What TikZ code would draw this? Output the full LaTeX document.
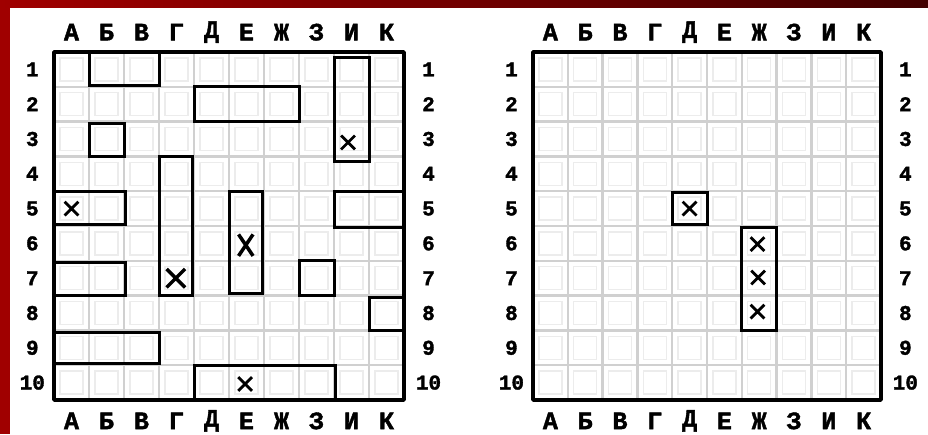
\documentclass[tikz,border=0pt]{standalone}
\usepackage{fontspec}
\newfontfamily\boardfont[BoldFeatures={FakeBold=1.6}]{Liberation Mono}
\usetikzlibrary{shapes.misc}
\definecolor{framered}{HTML}{A00000}
\definecolor{framedark}{HTML}{420000}
\definecolor{cellgrey}{HTML}{D0D0D0}
\definecolor{cellsoft}{HTML}{ECECEC}
\tikzset{
  gridline/.style  = {draw=cellgrey, line width=2.5pt},
  cellinner/.style = {draw=cellsoft, line width=1.5pt},
  border/.style    = {draw=black, line width=3.5pt, line join=round},
  ship/.style      = {draw=black, line width=3pt},
  collbl/.style    = {font=\boardfont\bfseries\fontsize{25}{25}\selectfont, inner sep=0pt},
  rowlbl/.style    = {font=\boardfont\bfseries\fontsize{21}{21}\selectfont, inner sep=0pt},
  hitmark/.style   = {cross out, draw=black, line width=2.8pt, minimum size=11pt, inner sep=0pt},
  bighit/.style    = {hitmark, line width=3.5pt, minimum size=15pt},
  tallhit/.style   = {hitmark, line width=3.5pt, minimum width=11pt, minimum height=18pt},
}

\begin{document}
\begin{tikzpicture}[x=1pt,y=-1pt]
  \useasboundingbox (0,0) rectangle (928,434);
  \fill[white] (0,0) rectangle (928,434);
  % red frame
  \fill[framered] (0,0) rectangle (10,434);
  \shade[left color=framered, right color=framedark] (0,0) rectangle (928,7.5);

  % both boards: cells, lines, frame, labels
  \foreach \bx/\bw/\side in {54/35/L, 533/34.8/R} {
    \begin{scope}[shift={(\bx,52)}, x=\bw pt, y=-34.8pt]
      \foreach \i in {0,...,9}
        \foreach \j in {0,...,9}
          \draw[cellinner] (\i+0.17,\j+0.17) rectangle (\i+0.83,\j+0.83);
      \foreach \k in {1,...,9} {
        \draw[gridline] (\k,0) -- (\k,10);
        \draw[gridline] (0,\k) -- (10,\k);
      }
      \draw[border] (0,0) rectangle (10,10);
      \foreach \c [count=\i from 0] in {А,Б,В,Г,Д,Е,Ж,З,И,К} {
        \node[collbl] (\side top\i) at (\i+0.5,-0.57) {\c};
        \node[collbl] (\side bot\i) at (\i+0.5,10.6) {\c};
      }
      \foreach \n [count=\j from 0] in {1,...,10} {
        \node[rowlbl] (\side left\n) at (-0.62,\j+0.5) {\n};
        \node[rowlbl] (\side right\n) at (10.7,\j+0.5) {\n};
      }
    \end{scope}
  }

  % left board: ships and hits
  \begin{scope}[shift={(54,52)}, x=35pt, y=-34.8pt]
    \draw[ship] (1,0) rectangle (3,0.95);
    \draw[ship] (4,1) rectangle (7,2);
    \draw[ship] (1,2.05) rectangle (2,3);
    \draw[ship] (8,0.15) rectangle (9,3.15);
    \draw[ship] (3,3) rectangle (3.95,7);
    \draw[ship] (5,4) rectangle (5.97,6.95);
    \draw[ship] (0,4) rectangle (2.05,4.95);
    \draw[ship] (8,4) rectangle (10,5.05);
    \draw[ship] (0,6.05) rectangle (2.05,7);
    \draw[ship] (7,6) rectangle (8,7);
    \draw[ship] (9,7.05) rectangle (10,8);
    \draw[ship] (0,8.05) rectangle (3,8.95);
    \draw[ship] (4,9) rectangle (8.05,10);
    \node[hitmark] (hitI3) at (8.4,2.6) {};
    \node[hitmark] (hitA5) at (0.5,4.5) {};
    \node[bighit]  (hitG7) at (3.48,6.5) {};
    \node[tallhit] (hitE6) at (5.48,5.55) {};
    \node[hitmark] (hitE10) at (5.46,9.54) {};
  \end{scope}

  % right board: ships and hits
  \begin{scope}[shift={(533,52)}, x=34.8pt, y=-34.8pt]
    \draw[ship] (4,4.05) rectangle (5,4.95);
    \draw[ship] (6,5.05) rectangle (7,8);
    \node[hitmark] (hitD5) at (4.5,4.5) {};
    \node[hitmark] (hitZh6) at (6.45,5.52) {};
    \node[hitmark] (hitZh7) at (6.47,6.48) {};
    \node[hitmark] (hitZh8) at (6.45,7.46) {};
  \end{scope}
\end{tikzpicture}
\end{document}
